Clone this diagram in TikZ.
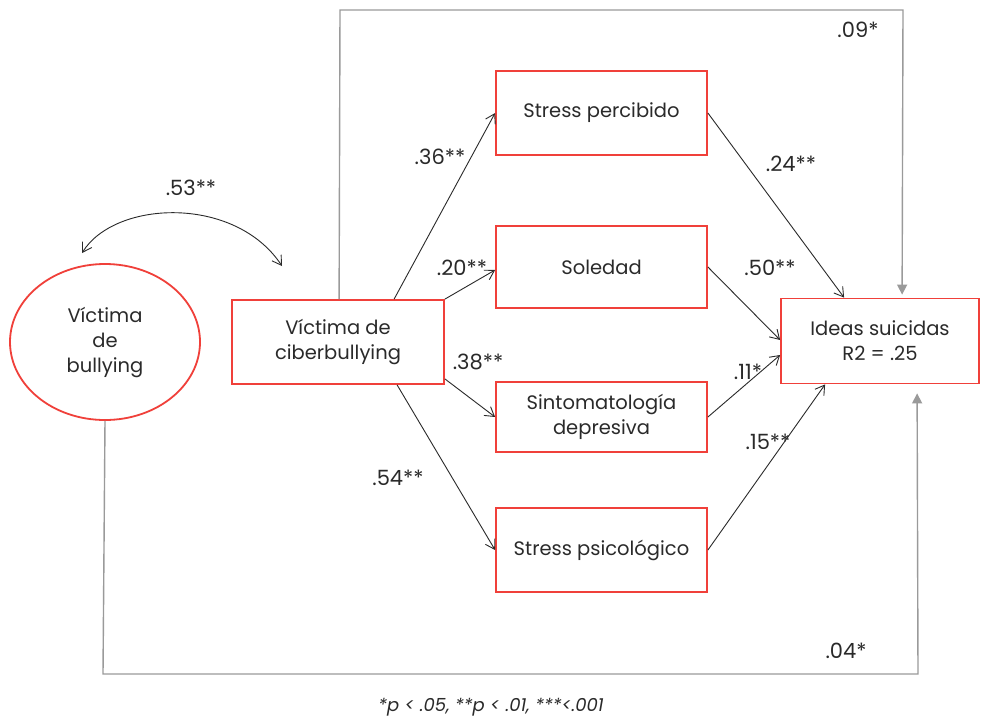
\documentclass[tikz,border=0pt]{standalone}
\usepackage{fontspec}
\setmainfont{Poppins}
\usetikzlibrary{shapes.geometric,arrows.meta,calc}
\definecolor{boxred}{HTML}{F0403A}
\definecolor{linegray}{HTML}{9A9A9A}
\definecolor{ink}{HTML}{2A2A2A}
\begin{document}
\begin{tikzpicture}[x=1pt,y=-1pt,
  every node/.style={font=\fontsize{19.5}{25}\selectfont, text=ink},
  box/.style={draw=boxred, line width=1.8pt, align=center, inner sep=0pt},
  path/.style={draw=ink, line width=0.9pt, -{Straight Barb[length=9pt,width=11pt,line width=0.9pt]}},
  direct/.style={draw=linegray, line width=1.4pt, -{Triangle[length=10pt,width=10pt]}},
  coef/.style={font=\fontsize{21}{25}\selectfont}]
\useasboundingbox (0,0) rectangle (983,724);
\fill[white] (0,0) rectangle (983,724);
% nodes
\node[box, ellipse, minimum width=190pt, minimum height=156pt] (bul) at (105,342) {Víctima\\de\\bullying};
\node[box, minimum width=212pt, minimum height=84pt] (cyb) at (338,342) {Víctima de\\ciberbullying};
\node[box, minimum width=211pt, minimum height=84pt] (sp) at (601.5,113) {Stress percibido};
\node[box, minimum width=211pt, minimum height=82pt] (sol) at (601.5,267) {Soledad};
\node[box, minimum width=211pt, minimum height=70pt] (sin) at (601.5,417) {Sintomatología\\depresiva};
\node[box, minimum width=211pt, minimum height=84pt] (psi) at (601.5,550) {Stress psicológico};
\node[box, minimum width=198pt, minimum height=85pt] (ide) at (880,341) {Ideas suicidas\\R2 = .25};
% correlation
\coordinate (c1) at (82,253);
\coordinate (c2) at (282,266);
\draw[draw=ink, line width=0.9pt, {Straight Barb[length=9pt,width=11pt,line width=0.9pt]}-{Straight Barb[length=9pt,width=11pt,line width=0.9pt]}] (c1) .. controls (115,200) and (235,195) .. (c2);
\node[coef] (l53) at (191,188) {.53**};
% paths
\draw[path] ($(cyb.north west)+(163,0)$) -- (sp.west);
\draw[path] (cyb.north east) -- ($(sol.west)+(0,3)$);
\draw[path] ($(cyb.south east)+(0,-6)$) -- (sin.west);
\draw[path] ($(cyb.south west)+(166,0)$) -- (psi.west);
\draw[path] (sp.east) -- ($(ide.north west)+(64,0)$);
\draw[path] (sol.east) -- ($(ide.west)+(0,-1)$);
\draw[path] (sin.east) -- ($(ide.west)+(0,14)$);
\draw[path] (psi.east) -- ($(ide.south west)+(45,0)$);
\node[coef] (l36) at (440,157) {.36**};
\node[coef] (l20) at (462,268) {.20**};
\node[coef] (l38) at (478,362) {.38**};
\node[coef] (l54) at (398,478) {.54**};
\node[coef] (l24) at (791,164) {.24**};
\node[coef] (l50) at (770,268) {.50**};
\node[coef] (l11) at (748,372) {.11*};
\node[coef] (l15) at (768,442) {.15**};
% direct effects
\coordinate (t1) at (340,10);
\coordinate (t2) at (903,10);
\draw[direct] ($(cyb.north west)+(108,0)$) -- (t1) -- (t2) -- ($(ide.north west)+(122,-3)$);
\coordinate (b1) at (103,674);
\coordinate (b2) at (918,674);
\draw[direct] (bul.south) -- (b1) -- (b2) -- ($(ide.south west)+(137,9)$);
\node[coef] (l09) at (858,30) {.09*};
\node[coef] (l04) at (846,651) {.04*};
\node[font=\itshape\fontsize{18}{22}\selectfont] (note) at (491,707) {*p < .05, **p < .01, ***<.001};
\end{tikzpicture}
\end{document}
